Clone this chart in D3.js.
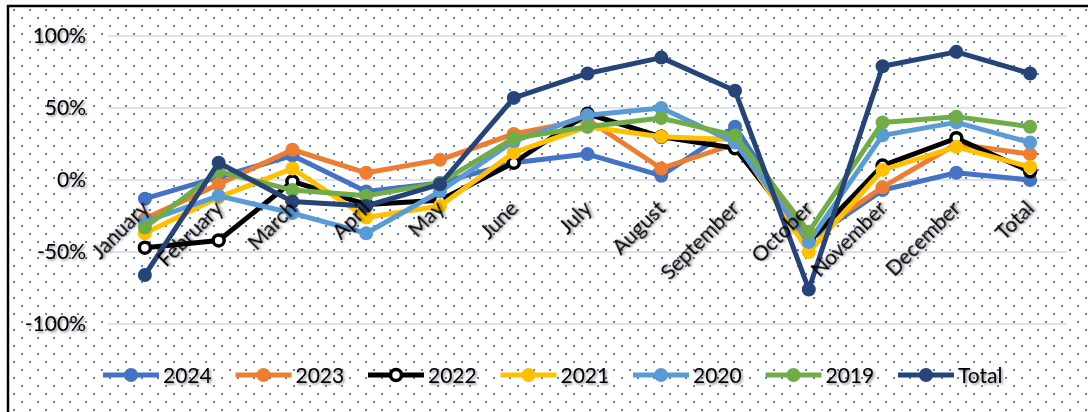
<!DOCTYPE html>
<html>
<head>
<meta charset="utf-8">
<script src="https://cdn.jsdelivr.net/npm/d3@7"></script>
<style>
  html, body { margin: 0; padding: 0; background: #fff; }
  svg { display: block; }
  text { font-family: Lato, "Liberation Sans", sans-serif; fill: #000; }
</style>
</head>
<body>
<svg id="chart" width="1088" height="412"></svg>
<script>
// Month-over-month change by year (percent)
const categories = ["January", "February", "March", "April", "May", "June", "July",
  "August", "September", "October", "November", "December", "Total"];
const v2024  = [-13,  2,  17,  -8,  -2, 12, 18,  3, 37, -42, -7,  5,  0];
const v2023  = [-27, -3,  21,   5,  14, 32, 42,  8, 25, -40, -5, 25, 18];
const v2022  = [-47, -42, -1, -17, -14, 12, 46, 30, 22, -43, 10, 29,  6];
const v2021  = [-37, -12,  8, -26, -18, 19, 37, 30, 28, -50,  7, 23,  9];
const v2020  = [-29, -11, -23, -37, -8, 27, 45, 50, 26, -43, 31, 40, 26];
const v2019  = [-33,  6,  -7, -11,  -2, 29, 37, 43, 31, -36, 40, 44, 37];
const vTotal = [-66, 12, -15, -18,  -3, 57, 74, 85, 62, -76, 79, 89, 74];
const yTicks = [-100, -50, 0, 50, 100];

const series = [
  { name: "2024",  values: v2024,  color: "#4472C4" },
  { name: "2023",  values: v2023,  color: "#ED7D31" },
  { name: "2022",  values: v2022,  color: "#000000", hollow: true },
  { name: "2021",  values: v2021,  color: "#FFC000" },
  { name: "2020",  values: v2020,  color: "#5B9BD5" },
  { name: "2019",  values: v2019,  color: "#70AD47" },
  { name: "Total", values: vTotal, color: "#264478" }
];

const svg = d3.select("#chart");
const W = 1088, H = 412;
const plot = { left: 108, right: 1067, top: 36, bottom: 324 };

const defs = svg.append("defs");
const pat = defs.append("pattern")
  .attr("id", "dots").attr("patternUnits", "userSpaceOnUse")
  .attr("x", 6).attr("y", 2).attr("width", 16).attr("height", 16);
[[-1, -1], [15, -1], [7, 7], [-1, 15], [15, 15]].forEach(p => {
  pat.append("rect").attr("x", p[0]).attr("y", p[1]).attr("width", 2).attr("height", 2)
    .attr("fill", "#5a80cc");
});

const shadow = defs.append("filter").attr("id", "shadow")
  .attr("x", "-20%").attr("y", "-20%").attr("width", "140%").attr("height", "140%");
shadow.append("feDropShadow").attr("dx", 1.5).attr("dy", 1.5).attr("stdDeviation", 1)
  .attr("flood-color", "#000").attr("flood-opacity", 0.45);

// chart area background with dotted fill and frame
svg.append("rect").attr("x", 8).attr("y", 6).attr("width", W - 8).attr("height", H - 6).attr("fill", "#fff");
svg.append("rect").attr("x", 8).attr("y", 6).attr("width", W - 8).attr("height", H - 6).attr("fill", "url(#dots)");
svg.append("line").attr("x1", 7).attr("x2", W).attr("y1", 6).attr("y2", 6)
  .attr("stroke", "#000").attr("stroke-width", 2.5);
svg.append("line").attr("x1", 8).attr("x2", 8).attr("y1", 5).attr("y2", H)
  .attr("stroke", "#000").attr("stroke-width", 2.5);

const x = d3.scalePoint().domain(categories).range([plot.left, plot.right]).padding(0.5);
const y = d3.scaleLinear().domain([-100, 100]).range([plot.bottom, plot.top]);

// gridlines
svg.append("g").selectAll("line").data(yTicks).join("line")
  .attr("x1", plot.left).attr("x2", plot.right)
  .attr("y1", d => y(d)).attr("y2", d => y(d))
  .attr("stroke", "#d9d9d9").attr("stroke-width", 1.5);

// y axis labels
const yAxis = d3.axisLeft(y).tickValues(yTicks).tickFormat(d => d + "%").tickSize(0).tickPadding(0);
const gy = svg.append("g").attr("transform", "translate(86,0)").call(yAxis);
gy.select(".domain").remove();
gy.selectAll("text").attr("font-size", 21).attr("font-family", "Lato, sans-serif")
  .attr("fill", "#000").attr("filter", "url(#shadow)");

// series lines and markers
const line = d3.line().x((d, i) => x(categories[i])).y(d => y(d));
series.forEach(s => {
  const g = svg.append("g");
  g.append("path").datum(s.values).attr("d", line)
    .attr("fill", "none").attr("stroke", s.color).attr("stroke-width", 5)
    .attr("stroke-linejoin", "round");
  g.selectAll("circle").data(s.values).join("circle")
    .attr("cx", (d, i) => x(categories[i])).attr("cy", d => y(d))
    .attr("r", s.hollow ? 5.5 : 7)
    .attr("fill", s.hollow ? "#fff" : s.color)
    .attr("stroke", s.color).attr("stroke-width", s.hollow ? 3.5 : 0);
});

// category labels, rotated, hanging just below the zero line
const xAxis = d3.axisBottom(x).tickSize(0).tickPadding(0);
const gx = svg.append("g").attr("transform", `translate(0,${y(0)})`).call(xAxis);
gx.select(".domain").remove();
gx.selectAll("text")
  .attr("font-size", 21).attr("font-family", "Lato, sans-serif").attr("fill", "#000")
  .attr("text-anchor", "end").attr("dy", 0).attr("y", 0)
  .attr("transform", "translate(5,30) rotate(-45)")
  .attr("filter", "url(#shadow)");

// legend
const legend = svg.append("g").attr("transform", "translate(0,375)");
const items = legend.selectAll("g").data(series).join("g")
  .attr("transform", (d, i) => `translate(${103 + i * 132.5},0)`);
items.append("line").attr("x1", 0).attr("x2", 56).attr("y1", 0).attr("y2", 0)
  .attr("stroke", d => d.color).attr("stroke-width", 5);
items.append("circle").attr("cx", 28).attr("cy", 0)
  .attr("r", d => d.hollow ? 5.5 : 7)
  .attr("fill", d => d.hollow ? "#fff" : d.color)
  .attr("stroke", d => d.color).attr("stroke-width", d => d.hollow ? 3.5 : 0);
items.append("text").attr("x", 60).attr("y", 0).attr("dy", "0.36em")
  .attr("font-size", 21).attr("filter", "url(#shadow)")
  .text(d => d.name);
</script>
</body>
</html>
